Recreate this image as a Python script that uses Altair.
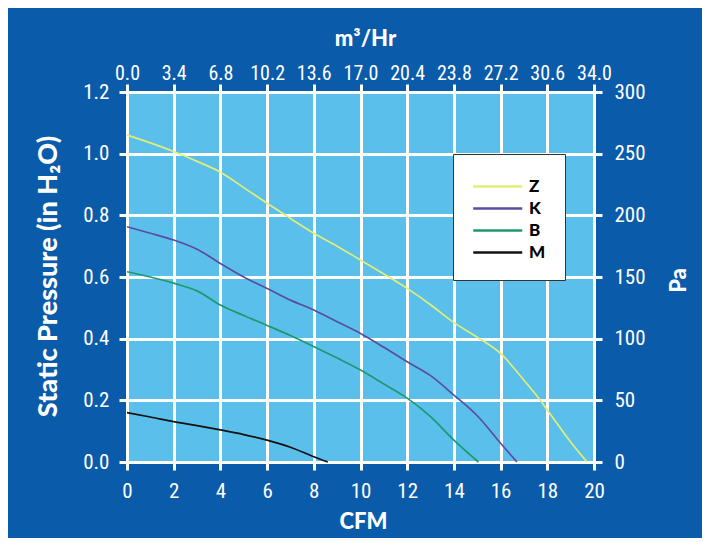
import altair as alt
import pandas as pd

# ---- data ----
series_names = ["Z", "K", "B", "M"]
series_colors = ["#e2ee74", "#5a4c9e", "#1d9a6c", "#111111"]

z_cfm = [0, 1, 2, 3, 4, 5, 6, 7, 8, 9, 10, 11, 12, 13, 14, 15, 16, 17, 17.6, 18, 19, 19.7]
z_p = [1.06, 1.035, 1.007, 0.975, 0.94, 0.89, 0.839, 0.79, 0.742, 0.70, 0.655, 0.61,
       0.563, 0.51, 0.452, 0.405, 0.352, 0.265, 0.21, 0.169, 0.065, 0.0]

k_cfm = [0, 1, 2, 3, 4, 5, 6, 7, 8, 9, 10, 11, 12, 13, 14, 15, 16, 16.7]
k_p = [0.763, 0.742, 0.72, 0.69, 0.644, 0.60, 0.563, 0.525, 0.493, 0.455, 0.417, 0.372,
       0.325, 0.28, 0.217, 0.15, 0.061, 0.0]

b_cfm = [0, 1, 2, 3, 4, 5, 6, 7, 8, 9, 10, 11, 12, 13, 14, 15.05]
b_p = [0.617, 0.60, 0.58, 0.555, 0.509, 0.475, 0.443, 0.41, 0.374, 0.337, 0.298, 0.253,
       0.207, 0.147, 0.071, 0.0]

m_cfm = [0, 1, 2, 3, 4, 5, 6, 7, 8, 8.6]
m_p = [0.16, 0.146, 0.131, 0.118, 0.104, 0.089, 0.071, 0.048, 0.017, 0.0]

cfm_ticks = [0, 2, 4, 6, 8, 10, 12, 14, 16, 18, 20]
inh2o_ticks = [0.0, 0.2, 0.4, 0.6, 0.8, 1.0, 1.2]
m3hr_ticks = [0.0, 3.4, 6.8, 10.2, 13.6, 17.0, 20.4, 23.8, 27.2, 30.6, 34.0]
pa_ticks = [0, 50, 100, 150, 200, 250, 300]

# ---- tables ----
rows = []
for name, xs, ys in [("Z", z_cfm, z_p), ("K", k_cfm, k_p), ("B", b_cfm, b_p), ("M", m_cfm, m_p)]:
    for i, (x, y) in enumerate(zip(xs, ys)):
        rows.append({"series": name, "cfm": x, "p": y, "i": i})
df = pd.DataFrame(rows)
df_sec = pd.DataFrame({"m3hr": [m3hr_ticks[0], m3hr_ticks[-1]], "pa": [pa_ticks[0], pa_ticks[-1]]})

LABEL_FONT = "Roboto Condensed, Liberation Sans Narrow, Roboto, sans-serif"
TITLE_FONT = "Lato, Liberation Sans, Arial, sans-serif"

lines = alt.Chart(df).mark_line(strokeWidth=1.7, interpolate="monotone").encode(
    x=alt.X("cfm:Q", scale=alt.Scale(domain=[cfm_ticks[0], cfm_ticks[-1]], nice=False),
            axis=alt.Axis(orient="bottom", values=cfm_ticks, format="d", title="CFM",
                          titleX=236, titleY=59, titleAlign="center", titleBaseline="middle",
                          titleFontSize=22)),
    y=alt.Y("p:Q", scale=alt.Scale(domain=[inh2o_ticks[0], inh2o_ticks[-1]], nice=False),
            axis=alt.Axis(orient="left", values=inh2o_ticks, format=".1f",
                          title="Static Pressure (in H₂O)",
                          titleX=-79, titleY=184, titleAngle=270, titleAlign="center",
                          titleBaseline="middle", titleFontSize=27)),
    color=alt.Color("series:N", scale=alt.Scale(domain=series_names, range=series_colors),
                    legend=alt.Legend(orient="none", legendX=326, legendY=62, title=None,
                                      symbolType="M-1,0H3", symbolSize=600,
                                      symbolStrokeWidth=2.5, labelOffset=30,
                                      labelFont=TITLE_FONT, labelFontWeight=900,
                                      labelFontSize=17, labelColor="black",
                                      fillColor="white", strokeColor="#333333",
                                      padding=19, rowPadding=0)),
    order="i:Q",
)

secondary = alt.Chart(df_sec).mark_point(opacity=0).encode(
    x=alt.X("m3hr:Q", scale=alt.Scale(domain=[m3hr_ticks[0], m3hr_ticks[-1]], nice=False),
            axis=alt.Axis(orient="top", values=m3hr_ticks, format=".1f", title="m³/Hr",
                          grid=False, labelPadding=1, labelFontSize=20,
                          titleX=238, titleY=-54, titleAlign="center", titleBaseline="middle",
                          titleFontSize=22)),
    y=alt.Y("pa:Q", scale=alt.Scale(domain=[pa_ticks[0], pa_ticks[-1]], nice=False),
            axis=alt.Axis(orient="right", values=pa_ticks, format="d", title="Pa",
                          grid=False, labelPadding=12,
                          titleX=84, titleY=188, titleAngle=270, titleAlign="center",
                          titleBaseline="middle", titleFontSize=22)),
)

chart = alt.layer(lines, secondary).resolve_scale(x="independent", y="independent").properties(
    width=467, height=370,
    autosize=alt.AutoSizeParams(type="none"),
    padding={"left": 119, "top": 84, "right": 108, "bottom": 76},
    background="#0b5bab",
).configure_view(
    fill="#5bbfec", stroke="transparent"
).configure_axis(
    labelColor="white", titleColor="white", tickColor="white", domainColor="white",
    gridColor="white", gridOpacity=1, gridWidth=3, domainWidth=3, tickWidth=3, tickSize=8,
    labelFont=LABEL_FONT, labelFontSize=21, labelPadding=10, labelOverlap=False,
    labelFlush=False, titleFont=TITLE_FONT, titleFontWeight=900,
)

chart.save("out.html", embed_options={"renderer": "svg", "actions": False})
